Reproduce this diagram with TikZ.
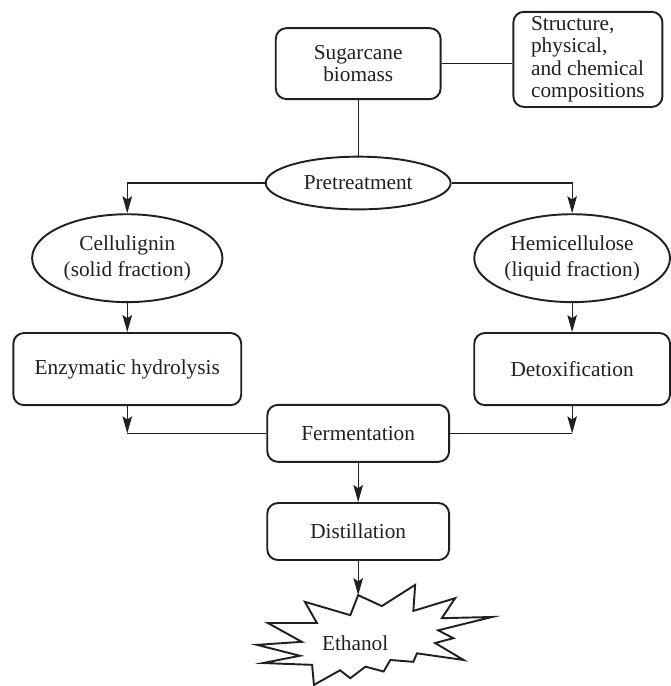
\documentclass[tikz,border=0pt]{standalone}
\usepackage{fontspec}
\setmainfont{Liberation Serif}
\usepackage{tikz}
\usetikzlibrary{arrows.meta,shapes.geometric,positioning,calc}
\usepackage{xcolor}
\definecolor{inkgray}{RGB}{35,31,32}

\begin{document}
\begin{tikzpicture}[
  box/.style={rectangle,rounded corners=5pt,draw=inkgray,line width=0.9pt,
              text=inkgray,align=center,inner sep=0pt,
              font=\fontsize{10}{10.5}\selectfont},
  oval/.style={ellipse,draw=inkgray,line width=0.9pt,text=inkgray,
               align=center,inner sep=0pt,
               font=\fontsize{10}{12}\selectfont},
  arr/.style={-{Stealth[length=8pt,width=4.5pt,inset=1.5pt]},
              line width=0.5pt,draw=inkgray},
  link/.style={line width=0.5pt,draw=inkgray},
  burst/.style={line width=0.9pt,draw=inkgray,line join=miter},
]
\useasboundingbox (0,0) rectangle (11.055,-11.319);

%% Feedstock and what describes it
\node[box,minimum width=2.72cm,minimum height=1.17cm] (sugar) at (5.91,-1.05)
     {Sugarcane\\biomass};
\node[box,align=left,minimum width=2.46cm,minimum height=1.57cm] (struct)
     at (9.70,-0.98) {Structure,\\physical,\\and chemical\\compositions};

% Pretreatment and its two fractions
\node[oval,minimum width=3.05cm,minimum height=0.87cm] (pre) at (5.91,-3.02)
     {Pretreatment};
\node[oval,minimum width=3.14cm,minimum height=1.45cm] (cell) at (2.10,-4.26)
     {Cellulignin\\(solid fraction)};
\node[oval,inner xsep=-2pt,minimum width=3.23cm,minimum height=1.45cm] (hemi)
     at (9.44,-4.26) {Hemicellulose\\(liquid fraction)};

% Process steps
\node[box,minimum width=3.76cm,minimum height=1.19cm] (enz) at (2.10,-6.09)
     {Enzymatic hydrolysis};
\node[box,minimum width=3.23cm,minimum height=1.19cm] (detox) at (9.44,-6.09)
     {Detoxification};
\node[box,minimum width=3.00cm,minimum height=0.94cm] (ferm) at (5.91,-7.15)
     {Fermentation};
\node[box,minimum width=3.00cm,minimum height=0.94cm] (dist) at (5.91,-8.77)
     {Distillation};

% Product (starburst drawn round the text)
\node[text=inkgray,font=\fontsize{10}{12}\selectfont] (eth) at (5.86,-10.61)
     {Ethanol};
\draw[burst,shift={(eth)}]
  (0.05,0.79) -- (0.44,0.61) -- (0.99,0.96) -- (0.96,0.53) -- (1.65,0.74)
  -- (1.43,0.41) -- (2.26,0.43) -- (1.37,0.21) -- (1.62,0.08) -- (1.32,0.00)
  -- (1.79,-0.28) -- (1.02,-0.17) -- (0.96,-0.31) -- (0.58,-0.28)
  -- (0.47,-0.47) -- (0.17,-0.39) -- (-0.08,-0.58) -- (-0.25,-0.45)
  -- (-0.68,-0.69) -- (-0.71,-0.36) -- (-1.52,-0.33) -- (-0.91,-0.21)
  -- (-1.62,-0.03) -- (-0.88,0.02) -- (-1.44,0.33) -- (-0.63,0.33)
  -- (-0.83,0.68) -- (-0.08,0.46) -- cycle;
\coordinate (ethtop) at ($(eth)+(0.05,0.79)$);

% Connectors
\draw[link] (sugar.east) -- (sugar.east -| struct.west);
\draw[link] (sugar.south) -- (sugar.south |- pre.north);
\draw[arr] (pre.west) -| (cell.north);
\draw[arr] (pre.east) -| (hemi.north);
\draw[arr] (cell.south) -- (enz.north);
\draw[arr] (hemi.south) -- (detox.north);

% Both streams join at fermentation
\coordinate (jl) at (enz.south |- ferm.west);
\coordinate (jr) at (detox.south |- ferm.east);
\draw[arr] (enz.south) -- (jl);
\draw[link] (jl) -- (ferm.west);
\draw[arr] (detox.south) -- (jr);
\draw[link] (jr) -- (ferm.east);

\draw[arr] (ferm.south) -- (dist.north);
\draw[arr] (dist.south) -- (ethtop);

\end{tikzpicture}
\end{document}
